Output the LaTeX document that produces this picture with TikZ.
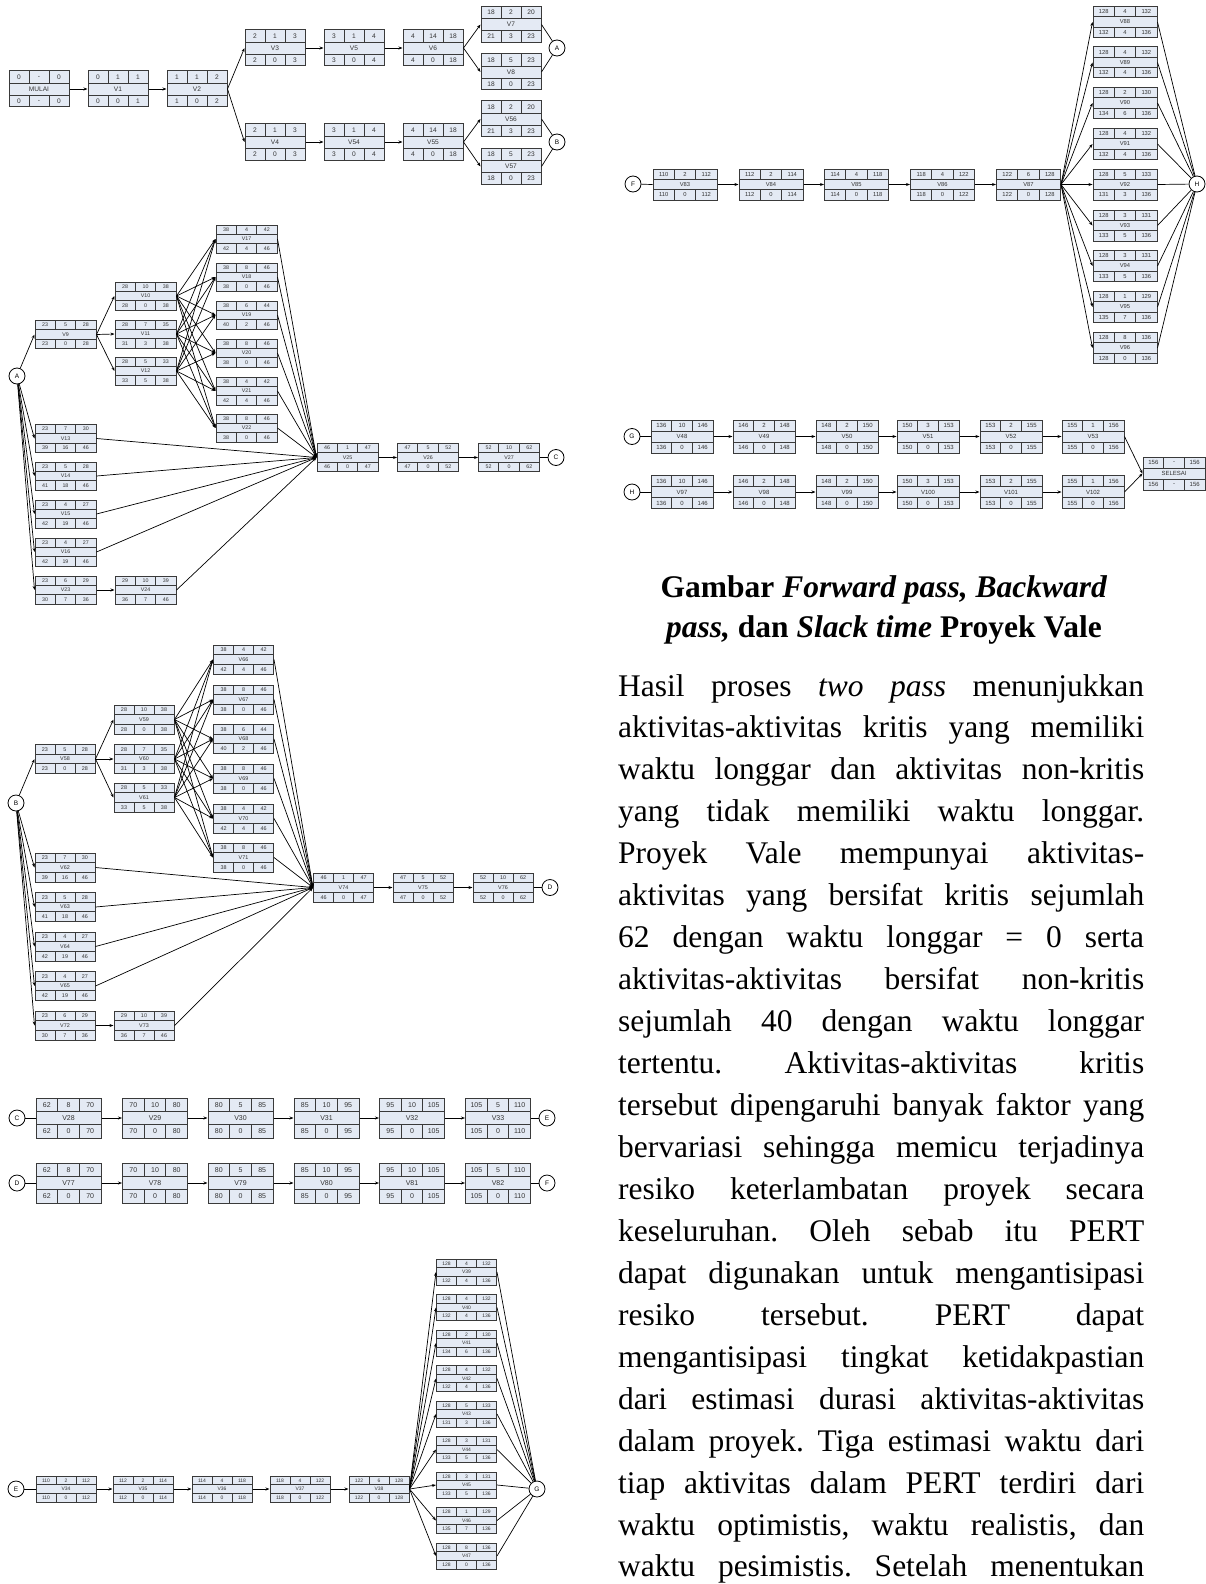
\documentclass[tikz,border=0pt]{standalone}
\usepackage{fontspec}
\setmainfont{Liberation Serif}
\setsansfont{Liberation Sans}
\usetikzlibrary{arrows.meta,calc}
\definecolor{boxfill}{HTML}{E4EAF4}
\definecolor{boxline}{HTML}{3A3A3A}
\definecolor{celltxt}{HTML}{333333}
\def\bw{60}\def\bh{36}\def\bfs{6.5}
\def\splitthree#1/#2/#3\relax{\def\cA{#1}\def\cB{#2}\def\cC{#3}}
\newcommand{\cellfont}{\sffamily\fontsize{\bfs}{\bfs}\selectfont}
\newcommand{\act}[5]{%
 \node[actbox, minimum width=\bw pt, minimum height=\bh pt] (#1) at (#2) {};
 \begin{scope}[shift={(#2)}]
  \draw[cellsep] (-\bw/2,-\bh/6) -- (\bw/2,-\bh/6) (-\bw/2,\bh/6) -- (\bw/2,\bh/6)
    (-\bw/6,-\bh/2) -- (-\bw/6,-\bh/6) (\bw/6,-\bh/2) -- (\bw/6,-\bh/6)
    (-\bw/6,\bh/2) -- (-\bw/6,\bh/6) (\bw/6,\bh/2) -- (\bw/6,\bh/6);
  \splitthree#3\relax
  \node[celltext] (#1-es) at (-\bw/3,-\bh/3) {\cA};
  \node[celltext] (#1-d) at (0,-\bh/3) {\cB};
  \node[celltext] (#1-ef) at (\bw/3,-\bh/3) {\cC};
  \node[celltext] (#1-lab) at (0,0) {#4};
  \splitthree#5\relax
  \node[celltext] (#1-ls) at (-\bw/3,\bh/3) {\cA};
  \node[celltext] (#1-sl) at (0,\bh/3) {\cB};
  \node[celltext] (#1-lf) at (\bw/3,\bh/3) {\cC};
 \end{scope}}
\newcommand{\bodyfont}{\fontsize{31.5}{42}\selectfont\frenchspacing}
\newcommand{\bline}[2]{\node[bodyline] (L#1) at (618,{696+41.95*(#1-1)}) {\makebox[526pt][s]{#2}};}
\tikzset{
 actbox/.style={rectangle, draw=boxline, fill=boxfill, line width=1pt, inner sep=0pt},
 cellsep/.style={draw=boxline, line width=0.9pt},
 celltext/.style={font=\cellfont, text=celltxt, inner sep=0pt},
 circ/.style={circle, draw=black, fill=white, line width=0.8pt, minimum size=16pt, inner sep=0pt, font=\sffamily\fontsize{6.5}{6.5}\selectfont},
 arr/.style={line width=0.7pt, -{Stealth[length=4pt,width=3pt]}},
 ln/.style={line width=0.7pt},
 bodyline/.style={anchor=base west, inner sep=0pt, font=\bodyfont},
 titleline/.style={anchor=base, inner sep=0pt, font=\fontsize{31.5}{40}\selectfont\bfseries}
}
\begin{document}
\begin{tikzpicture}[x=1pt,y=-1pt]
\fill[white] (0,0) rectangle (1205,1584);
\useasboundingbox (0,0) rectangle (1205,1584);

% ---------- Section 1 ----------
\def\bw{60}\def\bh{36}\def\bfs{6.6}
\act{MULAI}{39,89}{0/-/0}{MULAI}{0/-/0}
\act{V1}{118,89}{0/1/1}{V1}{0/0/1}
\act{V2}{197,89}{1/1/2}{V2}{1/0/2}
\act{V3}{275,48}{2/1/3}{V3}{2/0/3}
\act{V4}{275,142}{2/1/3}{V4}{2/0/3}
\act{V5}{354,48}{3/1/4}{V5}{3/0/4}
\act{V54}{354,142}{3/1/4}{V54}{3/0/4}
\act{V6}{433,48}{4/14/18}{V6}{4/0/18}
\act{V55}{433,142}{4/14/18}{V55}{4/0/18}
\act{V7}{511,24.5}{18/2/20}{V7}{21/3/23}
\act{V8}{511,72}{18/5/23}{V8}{18/0/23}
\act{V56}{511,119}{18/2/20}{V56}{21/3/23}
\act{V57}{511,166.5}{18/5/23}{V57}{18/0/23}
\node[circ] (Aend) at (557,48) {A};
\node[circ] (Bend) at (557,142) {B};
\draw[arr] (MULAI.east) -- (V1.west);
\draw[arr] (V1.east) -- (V2.west);
\draw[arr] (V2.east) -- (V3.west);
\draw[arr] (V2.east) -- (V4.west);
\draw[arr] (V3.east) -- (V5.west);
\draw[arr] (V5.east) -- (V6.west);
\draw[arr] (V4.east) -- (V54.west);
\draw[arr] (V54.east) -- (V55.west);
\draw[arr] (V6.east) -- (V7.west);
\draw[arr] (V6.east) -- (V8.west);
\draw[arr] (V55.east) -- (V56.west);
\draw[arr] (V55.east) -- (V57.west);
\draw[ln] (V7.east) -- (Aend);
\draw[ln] (V8.east) -- (Aend);
\draw[ln] (V56.east) -- (Bend);
\draw[ln] (V57.east) -- (Bend);

% ---------- Section A ----------
\def\bw{61}\def\bh{28}\def\bfs{5.3}
\node[circ] (Astart) at (17,376) {A};
\act{V9}{65.5,334.5}{23/5/28}{V9}{23/0/28}
\act{V10}{145.5,296}{28/10/38}{V10}{28/0/38}
\act{V11}{145.5,334}{28/7/35}{V11}{31/3/38}
\act{V12}{145.5,371}{28/5/33}{V12}{33/5/38}
\act{V17}{246.5,239}{38/4/42}{V17}{42/4/46}
\act{V18}{246.5,277}{38/8/46}{V18}{38/0/46}
\act{V19}{246.5,315}{38/6/44}{V19}{40/2/46}
\act{V20}{246.5,353}{38/8/46}{V20}{38/0/46}
\act{V21}{246.5,391}{38/4/42}{V21}{42/4/46}
\act{V22}{246.5,428}{38/8/46}{V22}{38/0/46}
\act{V13}{65.5,438.5}{23/7/30}{V13}{39/16/46}
\act{V14}{65.5,476}{23/5/28}{V14}{41/18/46}
\act{V15}{65.5,514}{23/4/27}{V15}{42/19/46}
\act{V16}{65.5,552}{23/4/27}{V16}{42/19/46}
\act{V23}{65.5,590}{23/6/29}{V23}{30/7/36}
\act{V24}{145.5,590}{29/10/39}{V24}{36/7/46}
\act{V25}{347.5,457.5}{46/1/47}{V25}{46/0/47}
\act{V26}{428,457.5}{47/5/52}{V26}{47/0/52}
\act{V27}{509,457.5}{52/10/62}{V27}{52/0/62}
\node[circ] (Cend) at (556,457.5) {C};
\foreach \t in {9,13,14,15,16,23} \draw[arr] (Astart) -- (V\t.west);
\foreach \t in {10,11,12} \draw[arr] (V9.east) -- (V\t.west);
\foreach \s in {10,11,12} \foreach \t in {17,...,22} \draw[arr] (V\s.east) -- (V\t.west);
\foreach \s in {17,...,22,13,14,15,16,24} \draw[arr] (V\s.east) -- (V25.west);
\draw[arr] (V23.east) -- (V24.west);
\draw[arr] (V25.east) -- (V26.west);
\draw[arr] (V26.east) -- (V27.west);
\draw[ln] (V27.east) -- (Cend);

% ---------- Section B ----------
\def\bw{60}\def\bh{29}\def\bfs{5.4}
\node[circ] (Bstart) at (16,803) {B};
\act{V58}{65,759}{23/5/28}{V58}{23/0/28}
\act{V59}{144,719.5}{28/10/38}{V59}{28/0/38}
\act{V60}{144,759}{28/7/35}{V60}{31/3/38}
\act{V61}{144,797.5}{28/5/33}{V61}{33/5/38}
\act{V66}{243.5,659.5}{38/4/42}{V66}{42/4/46}
\act{V67}{243.5,699.5}{38/8/46}{V67}{38/0/46}
\act{V68}{243.5,739}{38/6/44}{V68}{40/2/46}
\act{V69}{243.5,778.5}{38/8/46}{V69}{38/0/46}
\act{V70}{243.5,818.5}{38/4/42}{V70}{42/4/46}
\act{V71}{243.5,857.5}{38/8/46}{V71}{38/0/46}
\act{V62}{65,867.5}{23/7/30}{V62}{39/16/46}
\act{V63}{65,907}{23/5/28}{V63}{41/18/46}
\act{V64}{65,946.5}{23/4/27}{V64}{42/19/46}
\act{V65}{65,986}{23/4/27}{V65}{42/19/46}
\act{V72}{65,1025.5}{23/6/29}{V72}{30/7/36}
\act{V73}{144,1025.5}{29/10/39}{V73}{36/7/46}
\act{V74}{343.5,887.5}{46/1/47}{V74}{46/0/47}
\act{V75}{423,887.5}{47/5/52}{V75}{47/0/52}
\act{V76}{503,887.5}{52/10/62}{V76}{52/0/62}
\node[circ] (Dend) at (550,887.5) {D};
\foreach \t in {58,62,63,64,65,72} \draw[arr] (Bstart) -- (V\t.west);
\foreach \t in {59,60,61} \draw[arr] (V58.east) -- (V\t.west);
\foreach \s in {59,60,61} \foreach \t in {66,...,71} \draw[arr] (V\s.east) -- (V\t.west);
\foreach \s in {66,...,71,62,63,64,65,73} \draw[arr] (V\s.east) -- (V74.west);
\draw[arr] (V72.east) -- (V73.west);
\draw[arr] (V74.east) -- (V75.west);
\draw[arr] (V75.east) -- (V76.west);
\draw[ln] (V76.east) -- (Dend);

% ---------- Section C / D ----------
\def\bw{65}\def\bh{40}\def\bfs{7}
\node[circ] (Cstart) at (17,1118) {C};
\act{V28}{68.5,1118}{62/8/70}{V28}{62/0/70}
\act{V29}{155,1118}{70/10/80}{V29}{70/0/80}
\act{V30}{240.5,1118}{80/5/85}{V30}{80/0/85}
\act{V31}{326.5,1118}{85/10/95}{V31}{85/0/95}
\act{V32}{412,1118}{95/10/105}{V32}{95/0/105}
\act{V33}{498,1118}{105/5/110}{V33}{105/0/110}
\node[circ] (Eend) at (547,1118) {E};
\node[circ] (Dstart) at (17,1183) {D};
\act{V77}{68.5,1183}{62/8/70}{V77}{62/0/70}
\act{V78}{155,1183}{70/10/80}{V78}{70/0/80}
\act{V79}{240.5,1183}{80/5/85}{V79}{80/0/85}
\act{V80}{326.5,1183}{85/10/95}{V80}{85/0/95}
\act{V81}{412,1183}{95/10/105}{V81}{95/0/105}
\act{V82}{498,1183}{105/5/110}{V82}{105/0/110}
\node[circ] (Fend) at (547,1183) {F};
\draw[ln] (Cstart) -- (V28.west);
\draw[arr] (V28.east) -- (V29.west);
\draw[arr] (V29.east) -- (V30.west);
\draw[arr] (V30.east) -- (V31.west);
\draw[arr] (V31.east) -- (V32.west);
\draw[arr] (V32.east) -- (V33.west);
\draw[ln] (V33.east) -- (Eend);
\draw[ln] (Dstart) -- (V77.west);
\draw[arr] (V77.east) -- (V78.west);
\draw[arr] (V78.east) -- (V79.west);
\draw[arr] (V79.east) -- (V80.west);
\draw[arr] (V80.east) -- (V81.west);
\draw[arr] (V81.east) -- (V82.west);
\draw[ln] (V82.east) -- (Fend);

% ---------- Section E ----------
\def\bw{60}\def\bh{26}\def\bfs{5}
\node[circ] (Estart) at (16,1489) {E};
\act{V34}{66,1489}{110/2/112}{V34}{110/0/112}
\act{V35}{143,1489}{112/2/114}{V35}{112/0/114}
\act{V36}{222,1489}{114/4/118}{V36}{114/0/118}
\act{V37}{300,1489}{118/4/122}{V37}{118/0/122}
\act{V38}{379,1489}{122/6/128}{V38}{122/0/128}
\act{V39}{466.5,1272}{128/4/132}{V39}{132/4/136}
\act{V40}{466.5,1307.5}{128/4/132}{V40}{132/4/136}
\act{V41}{466.5,1343}{128/2/130}{V41}{134/6/136}
\act{V42}{466.5,1378.5}{128/4/132}{V42}{132/4/136}
\act{V43}{466.5,1414}{128/5/133}{V43}{131/3/136}
\act{V44}{466.5,1449.5}{128/3/131}{V44}{133/5/136}
\act{V45}{466.5,1485}{128/3/131}{V45}{133/5/136}
\act{V46}{466.5,1520.5}{128/1/129}{V46}{135/7/136}
\act{V47}{466.5,1556}{128/8/136}{V47}{128/0/136}
\node[circ] (Gend) at (537,1489) {G};
\draw[ln] (Estart) -- (V34.west);
\draw[arr] (V34.east) -- (V35.west);
\draw[arr] (V35.east) -- (V36.west);
\draw[arr] (V36.east) -- (V37.west);
\draw[arr] (V37.east) -- (V38.west);
\foreach \t in {39,...,47} {\draw[arr] (V38.east) -- (V\t.west); \draw[ln] (V\t.east) -- (Gend);}

% ---------- Section F ----------
\def\bw{64}\def\bh{31}\def\bfs{5.8}
\node[circ] (Fstart) at (633,184) {F};
\act{V83}{685,184.5}{110/2/112}{V83}{110/0/112}
\act{V84}{771,184.5}{112/2/114}{V84}{112/0/114}
\act{V85}{856.5,184.5}{114/4/118}{V85}{114/0/118}
\act{V86}{942.5,184.5}{118/4/122}{V86}{118/0/122}
\act{V87}{1028.5,184.5}{122/6/128}{V87}{122/0/128}
\act{V88}{1125,22}{128/4/132}{V88}{132/4/136}
\act{V89}{1125,62.5}{128/4/132}{V89}{132/4/136}
\act{V90}{1125,103}{128/2/130}{V90}{134/6/136}
\act{V91}{1125,144}{128/4/132}{V91}{132/4/136}
\act{V92}{1125,184.5}{128/5/133}{V92}{131/3/136}
\act{V93}{1125,225.5}{128/3/131}{V93}{133/5/136}
\act{V94}{1125,266}{128/3/131}{V94}{133/5/136}
\act{V95}{1125,307}{128/1/129}{V95}{135/7/136}
\act{V96}{1125,348}{128/8/136}{V96}{128/0/136}
\node[circ] (Hend) at (1197,184) {H};
\draw[ln] (Fstart) -- (V83.west);
\draw[arr] (V83.east) -- (V84.west);
\draw[arr] (V84.east) -- (V85.west);
\draw[arr] (V85.east) -- (V86.west);
\draw[arr] (V86.east) -- (V87.west);
\foreach \t in {88,...,96} {\draw[arr] (V87.east) -- (V\t.west); \draw[ln] (V\t.east) -- (Hend);}

% ---------- Section G / H ----------
\def\bw{62}\def\bh{33}\def\bfs{6}
\node[circ] (Gstart) at (632,436.5) {G};
\act{V48}{682,436.5}{136/10/146}{V48}{136/0/146}
\act{V49}{764,436.5}{146/2/148}{V49}{146/0/148}
\act{V50}{847,436.5}{148/2/150}{V50}{148/0/150}
\act{V51}{928,436.5}{150/3/153}{V51}{150/0/153}
\act{V52}{1011,436.5}{153/2/155}{V52}{153/0/155}
\act{V53}{1093,436.5}{155/1/156}{V53}{155/0/156}
\node[circ] (Hstart) at (632,492) {H};
\act{V97}{682,492}{136/10/146}{V97}{136/0/146}
\act{V98}{764,492}{146/2/148}{V98}{146/0/148}
\act{V99}{847,492}{148/2/150}{V99}{148/0/150}
\act{V100}{928,492}{150/3/153}{V100}{150/0/153}
\act{V101}{1011,492}{153/2/155}{V101}{153/0/155}
\act{V102}{1093,492}{155/1/156}{V102}{155/0/156}
\act{SELESAI}{1174,473.5}{156/-/156}{SELESAI}{156/-/156}
\draw[ln] (Gstart) -- (V48.west);
\draw[arr] (V48.east) -- (V49.west);
\draw[arr] (V49.east) -- (V50.west);
\draw[arr] (V50.east) -- (V51.west);
\draw[arr] (V51.east) -- (V52.west);
\draw[arr] (V52.east) -- (V53.west);
\draw[ln] (Hstart) -- (V97.west);
\draw[arr] (V97.east) -- (V98.west);
\draw[arr] (V98.east) -- (V99.west);
\draw[arr] (V99.east) -- (V100.west);
\draw[arr] (V100.east) -- (V101.west);
\draw[arr] (V101.east) -- (V102.west);
\draw[arr] (V53.east) -- (SELESAI.west);
\draw[arr] (V102.east) -- (SELESAI.west);

% ---------- Caption and text ----------
\node[titleline] (T1) at (884,597) {Gambar \textit{Forward pass, Backward}};
\node[titleline] (T2) at (884,637) {\textit{pass,} dan \textit{Slack time} Proyek Vale};
\bline{1}{Hasil proses \textit{two pass} menunjukkan}
\bline{2}{aktivitas-aktivitas kritis yang memiliki}
\bline{3}{waktu longgar dan aktivitas non-kritis}
\bline{4}{yang tidak memiliki waktu longgar.}
\bline{5}{Proyek Vale mempunyai aktivitas-}
\bline{6}{aktivitas yang bersifat kritis sejumlah}
\bline{7}{62 dengan waktu longgar = 0 serta}
\bline{8}{aktivitas-aktivitas bersifat non-kritis}
\bline{9}{sejumlah 40 dengan waktu longgar}
\bline{10}{tertentu. Aktivitas-aktivitas kritis}
\bline{11}{tersebut dipengaruhi banyak faktor yang}
\bline{12}{bervariasi sehingga memicu terjadinya}
\bline{13}{resiko keterlambatan proyek secara}
\bline{14}{keseluruhan. Oleh sebab itu PERT}
\bline{15}{dapat digunakan untuk mengantisipasi}
\bline{16}{resiko tersebut. PERT dapat}
\bline{17}{mengantisipasi tingkat ketidakpastian}
\bline{18}{dari estimasi durasi aktivitas-aktivitas}
\bline{19}{dalam proyek. Tiga estimasi waktu dari}
\bline{20}{tiap aktivitas dalam PERT terdiri dari}
\bline{21}{waktu optimistis, waktu realistis, dan}
\bline{22}{waktu pesimistis. Setelah menentukan}
\end{tikzpicture}
\end{document}
